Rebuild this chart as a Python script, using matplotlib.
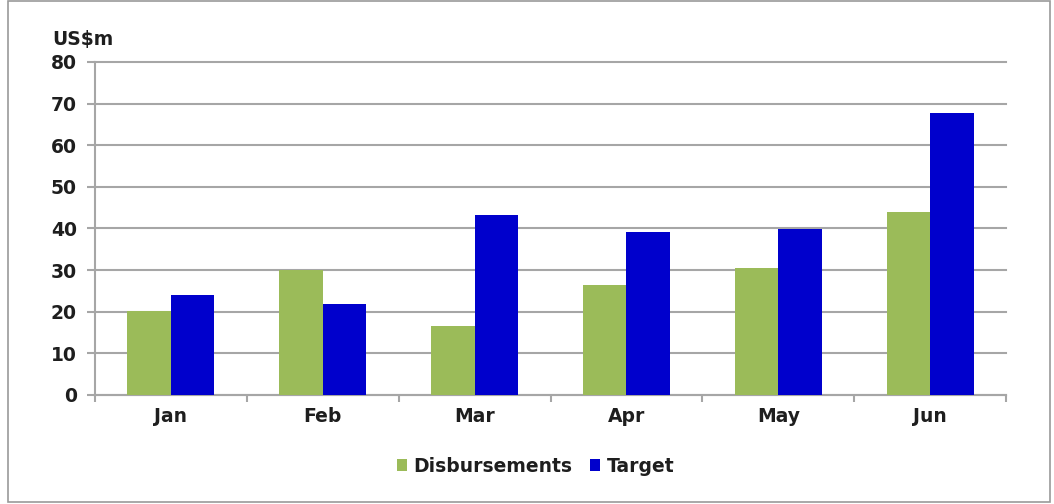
import numpy as np
import matplotlib.pyplot as plt
from matplotlib.patches import Rectangle

months = ["Jan", "Feb", "Mar", "Apr", "May", "Jun"]
disbursements = [20.2, 30.0, 16.6, 26.4, 30.5, 44.0]
target = [24.0, 21.9, 43.2, 39.2, 39.9, 67.7]
y_ticks = [0, 10, 20, 30, 40, 50, 60, 70, 80]

GREEN = "#9BBB59"
BLUE = "#0000CC"
GRID = "#A6A6A6"
TXT = "#1E1E1E"
FS = 13.5

plt.rcParams["font.family"] = "DejaVu Sans"
plt.rcParams["font.weight"] = "bold"

fig = plt.figure(figsize=(10.54, 5.04), dpi=100)
ax = fig.add_axes([0.0901, 0.2163, 0.8644, 0.6607])

x = np.arange(len(months))
w = 0.287
ax.bar(x - w / 2, disbursements, w, color=GREEN, label="Disbursements", zorder=3)
ax.bar(x + w / 2, target, w, color=BLUE, label="Target", zorder=3)

ax.set_xlim(-0.5, len(months) - 0.5)
ax.set_ylim(0, 80)
ax.set_yticks(y_ticks)
ax.set_yticklabels([str(v) for v in y_ticks], fontsize=FS, color=TXT, fontweight="bold")
ax.set_xticks(x)
ax.set_xticklabels(months, fontsize=FS, color=TXT, fontweight="bold")
ax.tick_params(axis="x", length=0, pad=9)
ax.set_xticks(np.arange(-0.5, len(months)), minor=True)
ax.tick_params(axis="x", which="minor", length=5, color=GRID, width=1.5)
ax.tick_params(axis="y", length=6, color=GRID, width=1.5, pad=7)

ax.grid(axis="y", color=GRID, linewidth=1.5, zorder=0)
for gl in ax.get_ygridlines():
    gl.set_clip_on(False)
for s in ["top", "right"]:
    ax.spines[s].set_visible(False)
for s in ["left", "bottom"]:
    ax.spines[s].set_color(GRID)
    ax.spines[s].set_linewidth(1.5)

fig.text(0.050, 0.921, "US$m", fontsize=FS, fontweight="bold", color=TXT, va="center")

leg = fig.legend(loc="center", bbox_to_anchor=(0.508, 0.075), ncol=2, frameon=False,
                 prop={"family": "DejaVu Sans", "weight": "bold", "size": FS},
                 handlelength=0.55, handleheight=0.55, handletextpad=0.35,
                 columnspacing=0.9)
for t in leg.get_texts():
    t.set_color(TXT)

fig.patches.append(Rectangle((0.008, 0.004), 0.988, 0.994, transform=fig.transFigure,
                             fill=False, edgecolor="#9A9A9A", linewidth=1.2))

fig.savefig("out.png", dpi=100)
